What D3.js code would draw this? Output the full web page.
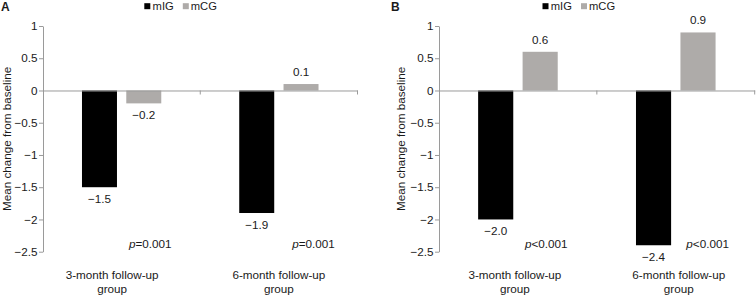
<!DOCTYPE html>
<html>
<head>
<meta charset="utf-8">
<script src="https://cdn.jsdelivr.net/npm/d3@7"></script>
<style>
  html, body { margin: 0; padding: 0; background: #fff; }
  svg { display: block; }
  text { font-family: "Liberation Sans", Arial, sans-serif; fill: #1a1a1a; }
</style>
</head>
<body>
<svg id="chart" width="756" height="295"></svg>
<script>
// ---- data ----
const categories = ["3-month follow-up group", "6-month follow-up group"];
const categoryLines = [["3-month follow-up", "group"], ["6-month follow-up", "group"]];
const seriesNames = ["mIG", "mCG"];
const panelNames = ["A", "B"];
const panelA_mIG = [-1.5, -1.9];
const panelA_mCG = [-0.2, 0.1];
const panelB_mIG = [-2.0, -2.4];
const panelB_mCG = [0.6, 0.9];
const panelA_p = ["=0.001", "=0.001"];
const panelB_p = ["<0.001", "<0.001"];
const valueLabelsA = [["\u22121.5", "\u22120.2"], ["\u22121.9", "0.1"]];
const valueLabelsB = [["\u22122.0", "0.6"], ["\u22122.4", "0.9"]];
const yTicks = [1, 0.5, 0, -0.5, -1, -1.5, -2, -2.5];
const yTickLabels = ["1", "0.5", "0", "\u22120.5", "\u22121", "\u22121.5", "\u22122", "\u22122.5"];
const yDomain = [-2.5, 1];
const yTitle = "Mean change from baseline";

// ---- layout ----
const colors = { mIG: "#000000", mCG: "#aeaba9" };
const axisColor = "#9a9a9a";
const fontSize = 11.7;

const panels = [
  { name: panelNames[0], mIG: panelA_mIG, mCG: panelA_mCG, p: panelA_p, labels: valueLabelsA,
    x0: 43, x1: 357.5, letterX: 1, legendX: 144.3, titleX: 8, catDx: [-9.5, 0], pDx: [86, 92] },
  { name: panelNames[1], mIG: panelB_mIG, mCG: panelB_mCG, p: panelB_p, labels: valueLabelsB,
    x0: 439, x1: 754.7, letterX: 391, legendX: 542.5, titleX: 401.5, catDx: [-3, 3], pDx: [86, 89.5] }
];

const svg = d3.select("#chart");
const y = d3.scaleLinear().domain(yDomain).range([251.7, 26]);

panels.forEach(P => {
  const g = svg.append("g");
  const x = d3.scaleBand().domain(categories).range([P.x0, P.x1]).paddingInner(0).paddingOuter(0);
  const xs = d3.scaleBand().domain(seriesNames).range([0, x.bandwidth()])
    .paddingInner(0.21).paddingOuter(0.88);

  // bars
  categories.forEach((c, i) => {
    seriesNames.forEach((s, j) => {
      const v = P[s][i];
      g.append("rect")
        .attr("x", x(c) + xs(s))
        .attr("width", xs.bandwidth())
        .attr("y", y(Math.max(0, v)))
        .attr("height", Math.abs(y(v) - y(0)))
        .attr("fill", colors[s]);
      const cx = x(c) + xs(s) + xs.bandwidth() / 2;
      g.append("text")
        .attr("x", cx)
        .attr("y", v >= 0 ? y(v) - 8 : y(v) + 16)
        .attr("text-anchor", "middle")
        .attr("font-size", fontSize)
        .text(P.labels[i][j]);
    });
    // p-value
    const pt = g.append("text")
      .attr("x", x(c) + P.pDx[i])
      .attr("y", 247.5)
      .attr("font-size", fontSize);
    pt.append("tspan").attr("font-style", "italic").text("p");
    pt.append("tspan").text(P.p[i]);
    // category label
    const t = g.append("text")
      .attr("x", x(c) + x.bandwidth() / 2 + P.catDx[i])
      .attr("text-anchor", "middle")
      .attr("font-size", fontSize);
    categoryLines[i].forEach((ln, k) => {
      t.append("tspan").attr("x", x(c) + x.bandwidth() / 2 + P.catDx[i])
        .attr("y", 279.3 + k * 13.3).text(ln);
    });
  });

  // y axis
  const yAxis = d3.axisLeft(y).tickValues(yTicks).tickSize(4).tickSizeOuter(0)
    .tickFormat((d, i) => yTickLabels[i]);
  const ya = g.append("g").attr("transform", `translate(${P.x0},0)`).call(yAxis);
  ya.select(".domain").attr("stroke", axisColor);
  ya.selectAll(".tick line").attr("stroke", axisColor);
  ya.selectAll(".tick text").attr("font-size", fontSize).attr("font-family", null)
    .attr("fill", "#1a1a1a").attr("x", -5.5);

  // x axis at zero
  const xAxis = d3.axisBottom(x).tickSize(0).tickFormat("");
  const xa = g.append("g").attr("transform", `translate(0,${y(0)})`).call(xAxis);
  xa.select(".domain").attr("stroke", axisColor);
  // boundary tick marks
  categories.forEach(c => {
    const bx = x(c) + x.bandwidth();
    g.append("line").attr("x1", bx).attr("x2", bx).attr("y1", y(0)).attr("y2", y(0) + 4)
      .attr("stroke", axisColor);
  });

  // y title
  g.append("text")
    .attr("transform", `translate(${P.titleX},${(y(1) + y(-2.5)) / 2}) rotate(-90)`)
    .attr("text-anchor", "middle")
    .attr("dominant-baseline", "middle")
    .attr("font-size", fontSize)
    .text(yTitle);

  // panel letter
  g.append("text").attr("x", P.letterX).attr("y", 11)
    .attr("font-size", 12).attr("font-weight", "bold").text(P.name);

  // legend
  const lg = g.append("g").attr("transform", `translate(${P.legendX},0)`);
  lg.append("rect").attr("x", 0).attr("y", 3.2).attr("width", 6).attr("height", 6).attr("fill", colors.mIG);
  lg.append("text").attr("x", 8.3).attr("y", 9.6).attr("font-size", 11.2).text(seriesNames[0]);
  lg.append("rect").attr("x", 38.5).attr("y", 3.2).attr("width", 6).attr("height", 6).attr("fill", colors.mCG);
  lg.append("text").attr("x", 46.5).attr("y", 9.6).attr("font-size", 11.2).text(seriesNames[1]);
});
</script>
</body>
</html>
